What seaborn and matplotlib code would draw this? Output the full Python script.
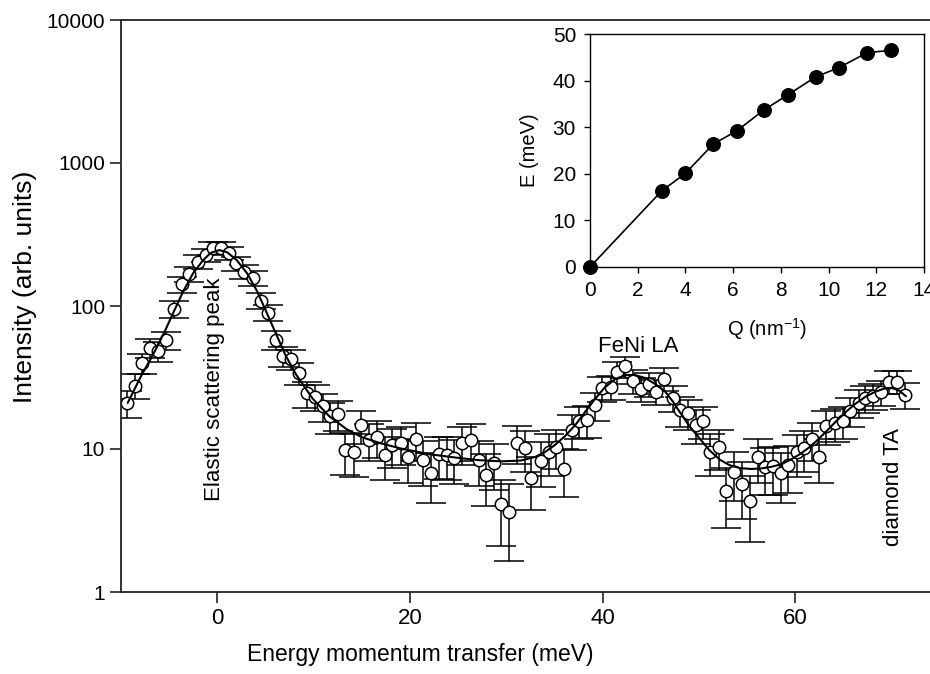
import matplotlib
matplotlib.use("Agg")
import matplotlib.pyplot as plt
import seaborn as sns
import pandas as pd
import numpy as np

# measured spectrum (energy transfer, intensity, error)
energy = [-9.33, -8.56, -7.77, -7.0, -6.2, -5.34, -4.47, -3.67, -2.98, -2.05,
          -1.18, -0.49, 0.38, 1.18, 1.94, 2.8, 3.68, 4.54, 5.24, 6.1,
          6.8, 7.66, 8.46, 9.3, 10.15, 10.95, 11.7, 12.5, 13.3, 14.17,
          14.97, 15.77, 16.63, 17.44, 18.15, 19.05, 19.8, 20.66, 21.4, 22.2,
          23.0, 23.8, 24.6, 25.4, 26.3, 27.2, 27.9, 28.7, 29.5, 30.3,
          31.1, 31.9, 32.6, 33.56, 34.4, 35.15, 36.0, 36.8, 37.6, 38.4,
          39.2, 39.95, 40.85, 41.55, 42.35, 43.15, 44.0, 44.8, 45.6, 46.4,
          47.3, 48.0, 48.9, 49.75, 50.45, 51.2, 52.05, 52.85, 53.7, 54.5,
          55.3, 56.1, 56.9, 57.7, 58.5, 59.3, 60.15, 60.9, 61.7, 62.5,
          63.2, 64.1, 65.0, 65.7, 66.6, 67.3, 68.1, 68.9, 69.7, 70.6, 71.45]
intensity = [21.1, 27.7, 39.7, 51.1, 48.4, 57.8, 94.8, 142, 167, 204,
             227, 253, 256, 234, 199, 174, 156, 109, 90, 58,
             44.7, 42.4, 34.2, 24.5, 23.2, 19.9, 16.9, 17.6, 9.8, 9.6,
             14.7, 11.6, 12.2, 9.1, 10.6, 11.0, 8.8, 11.7, 8.4, 6.8,
             9.2, 9.1, 8.6, 11.0, 11.6, 8.4, 6.6, 8.0, 4.1, 3.65,
             11.1, 10.1, 6.24, 8.3, 9.6, 10.4, 7.3, 13.5, 15.7, 15.9,
             20.3, 26.6, 27.3, 34.7, 37.8, 30.0, 26.4, 28.5, 25.2, 31.0,
             22.9, 18.7, 17.8, 14.7, 15.8, 9.6, 10.3, 5.1, 6.9, 5.66,
             4.35, 8.75, 7.5, 7.6, 6.76, 7.73, 9.5, 10.1, 11.7, 8.75,
             14.5, 15.1, 15.8, 18.5, 21.1, 22.6, 23.5, 25.1, 29.6, 29.6, 23.9]
error = [4.5, 5.5, 6.5, 7.5, 7.5, 8.5, 13, 18, 20, 23,
         25, 26, 26, 25, 22, 20, 19, 14, 12, 8.5,
         7, 6.8, 6, 5, 4.8, 4.5, 4.2, 4.2, 3.2, 3.2,
         3.8, 3.4, 3.5, 3.0, 3.2, 3.3, 3.0, 3.4, 2.9, 2.6,
         3.0, 3.0, 2.9, 3.3, 3.4, 2.9, 2.6, 2.8, 2.0, 2.0,
         3.3, 3.2, 2.5, 2.9, 3.1, 3.2, 2.7, 3.7, 4.0, 4.0,
         4.5, 5.2, 5.3, 6.0, 6.3, 5.6, 5.2, 5.4, 5.0, 5.6,
         4.8, 4.4, 4.3, 3.9, 4.0, 3.1, 3.2, 2.3, 2.6, 2.4,
         2.1, 3.0, 2.7, 2.8, 2.6, 2.8, 3.1, 3.2, 3.4, 3.0,
         3.8, 3.9, 4.0, 4.3, 4.6, 4.8, 4.9, 5.0, 5.5, 5.5, 4.9]

# fitted curve
fit_energy = [-9.3, -8.5, -7.8, -6.8, -6.0, -5.3, -4.5, -3.5, -2.5, -1.5,
              -0.7, 0.2, 1.0, 2.0, 3.1, 4.1, 5.0, 6.0, 7.1, 8.2,
              9.9, 11.6, 13.4, 15.0, 16.9, 19.0, 22.0, 24.8, 27.2, 29.5,
              31.5, 33.0, 34.0, 35.0, 36.1, 37.2, 38.2, 39.2, 40.2, 41.3,
              42.3, 43.3, 44.4, 45.5, 46.5, 47.3, 48.0, 49.0, 50.1, 51.1,
              52.2, 53.2, 54.3, 55.4, 56.4, 57.5, 58.5, 59.5, 60.5, 61.4,
              62.1, 63.2, 64.2, 65.2, 66.2, 67.3, 68.3, 69.2, 70.0, 70.8, 71.5]
fit_intensity = [21, 27, 33.5, 44, 56, 70, 92, 128, 170, 208,
                 235, 246, 238, 210, 169, 128, 94, 66, 45, 33,
                 22.5, 17, 13.8, 12.1, 11.0, 10.1, 9.2, 8.7, 8.35, 8.2,
                 8.3, 8.8, 9.5, 10.6, 12.3, 14.8, 18.2, 22.3, 26.8, 30.8,
                 32.8, 33.0, 31.4, 28.4, 25.2, 21.5, 18.2, 14.5, 11.8, 9.8,
                 8.4, 7.7, 7.35, 7.25, 7.3, 7.5, 7.8, 8.4, 9.2, 10.2,
                 11.2, 13.2, 15.5, 18.0, 20.6, 23.2, 25.1, 26.4, 26.8, 25.6, 23.4]

# inset: dispersion
q_vals = [0, 3.0, 4.0, 5.17, 6.15, 7.29, 8.31, 9.46, 10.44, 11.62, 12.62]
e_vals = [0, 16.3, 20.1, 26.4, 29.2, 33.7, 37.0, 40.8, 42.8, 46.0, 46.5]

sns.set_style("ticks")
plt.rcParams['font.family'] = ['Liberation Sans', 'DejaVu Sans']
plt.rcParams['mathtext.default'] = 'regular'
for key in ['text.color', 'axes.labelcolor', 'xtick.color', 'ytick.color',
            'axes.edgecolor']:
    plt.rcParams[key] = 'black'

spec = pd.DataFrame({"E": energy, "I": intensity, "err": error})
fit = pd.DataFrame({"E": fit_energy, "I": fit_intensity})
disp = pd.DataFrame({"Q": q_vals, "E": e_vals})

fig = plt.figure(figsize=(9.3, 6.74), dpi=100)
ax = fig.add_axes([121/930, 82/674, 809/930, 572/674])

ax.errorbar(spec["E"], spec["I"], yerr=spec["err"], fmt="none",
            ecolor="black", elinewidth=1.1, capsize=11, capthick=1.1, zorder=1)
sns.scatterplot(data=spec, x="E", y="I", ax=ax, marker="o", s=80,
                facecolor="white", edgecolor="black", linewidth=1.1, zorder=2)
sns.lineplot(data=fit, x="E", y="I", ax=ax, color="black", lw=1.5,
             sort=False, zorder=3)

ax.set_yscale("log")
ax.set_xlim(-10, 74)
ax.set_ylim(1, 10000)
ax.set_xticks([0, 20, 40, 60])
ax.set_yticks([1, 10, 100, 1000, 10000])
ax.set_yticklabels(["1", "10", "100", "1000", "10000"])
ax.minorticks_off()
ax.tick_params(axis="both", direction="out", length=8, width=1.2,
               labelsize=15, color="#222222")
ax.tick_params(axis="x", labelsize=16)
for side in ["left", "bottom", "top"]:
    ax.spines[side].set_linewidth(1.3)
    ax.spines[side].set_color("#222222")
ax.spines["right"].set_visible(False)

ax.set_xlabel("Energy momentum transfer (meV)", fontsize=16.5)
ax.set_ylabel("Intensity (arb. units)", fontsize=19)
ax.xaxis.set_label_coords((420 - 121) / 809, -0.09)
ax.yaxis.set_label_coords((37 - 121) / 809, (592 - 287) / 572)

ax.text(-0.3, 4.3, "Elastic scattering peak", rotation=90, ha="center",
        va="bottom", fontsize=16)
ax.text(43.7, 44, "FeNi LA", ha="center", va="bottom", fontsize=16)
ax.text(70.2, 2.1, "diamond TA", rotation=90, ha="center", va="bottom",
        fontsize=16)

# inset
ins = fig.add_axes([590/930, (674-267)/674, 334/930, 233/674])
sns.lineplot(data=disp, x="Q", y="E", ax=ins, color="black", lw=1.2,
             marker="o", markersize=10, markerfacecolor="black",
             markeredgecolor="black")
ins.set_xlim(0, 14)
ins.set_ylim(0, 50)
ins.set_xticks(range(0, 15, 2))
ins.set_yticks(range(0, 51, 10))
ins.tick_params(axis="both", direction="out", length=4, width=1,
                labelsize=15, pad=6)
for side in ins.spines.values():
    side.set_linewidth(1.0)
    side.set_visible(True)
ins.set_xlabel("Q (nm$^{-1}$)", fontsize=14.5)
ins.set_ylabel("E (meV)", fontsize=14.5)
ins.xaxis.set_label_coords((767 - 590) / 334, -0.21)
ins.yaxis.set_label_coords((539 - 590) / 334, 0.5)
for pt in ins.collections + ins.lines:
    pt.set_clip_on(False)

fig.savefig("out.png", dpi=100)
